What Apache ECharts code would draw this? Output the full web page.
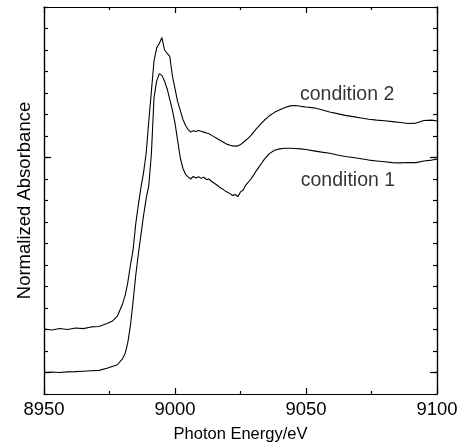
<!DOCTYPE html>
<html>
<head>
<meta charset="utf-8">
<script src="https://cdn.jsdelivr.net/npm/echarts@6/dist/echarts.min.js"></script>
<style>html,body{margin:0;padding:0;background:#fff;}#c{width:470px;height:448px;}</style>
</head>
<body>
<div id="c"></div>
<script>
// Photon energy (eV)
var energy = [8950,8953,8956,8959,8962,8965,8968,8971,8974,8976,8978,8980,8981,8982,8983,8984,8985,8986,8987,8988,8989,8990,8991,8992,8993,8994,8995,8996,8997,8998,8999,9000,9001,9002,9003,9004,9005,9006,9007,9008,9009,9010,9011,9012,9013,9014,9015,9016,9017,9018,9019,9020,9021,9022,9023,9024,9025,9026,9027,9028,9029,9030,9031,9032,9033,9034,9035,9036,9038,9040,9042,9044,9046,9048,9050,9053,9056,9059,9062,9065,9068,9071,9074,9077,9080,9083,9086,9089,9092,9095,9098,9100];
// condition 1 (normalized absorbance)
var condition1 = [0.000,0.002,0.000,0.003,0.004,0.006,0.008,0.010,0.020,0.028,0.036,0.065,0.090,0.140,0.220,0.330,0.450,0.550,0.640,0.730,0.810,0.870,1.020,1.280,1.355,1.390,1.382,1.355,1.320,1.270,1.220,1.160,1.080,1.000,0.950,0.922,0.910,0.900,0.912,0.905,0.911,0.903,0.908,0.897,0.900,0.888,0.880,0.872,0.862,0.855,0.846,0.838,0.832,0.823,0.828,0.818,0.840,0.848,0.872,0.885,0.900,0.918,0.938,0.955,0.972,0.990,1.004,1.018,1.034,1.040,1.043,1.043,1.042,1.040,1.037,1.031,1.025,1.020,1.012,1.005,1.000,0.994,0.988,0.984,0.980,0.976,0.975,0.977,0.976,0.984,0.988,0.992];
// condition 2 (normalized absorbance, offset)
var condition2 = [0.202,0.198,0.205,0.200,0.207,0.204,0.212,0.214,0.228,0.238,0.262,0.320,0.360,0.420,0.500,0.570,0.690,0.780,0.860,0.930,1.020,1.170,1.310,1.450,1.510,1.530,1.558,1.500,1.485,1.470,1.380,1.320,1.260,1.220,1.178,1.150,1.130,1.118,1.124,1.121,1.126,1.122,1.118,1.114,1.110,1.103,1.096,1.088,1.081,1.074,1.067,1.061,1.057,1.054,1.053,1.054,1.060,1.070,1.080,1.090,1.103,1.118,1.133,1.146,1.160,1.172,1.183,1.194,1.210,1.222,1.233,1.240,1.242,1.238,1.235,1.231,1.222,1.212,1.204,1.196,1.190,1.184,1.178,1.174,1.171,1.167,1.163,1.158,1.160,1.172,1.174,1.170];
// annotation labels [energy, value, text]
var annotations = [[9047.7, 1.292, 'condition 2'], [9048, 0.893, 'condition 1']];
// axis settings
var xTicks = [8950, 9000, 9050, 9100];
var yMajorTicks = [0, 1];

var FONT = 'Liberation Sans, Arial, sans-serif';
function pairs(xs, ys){ return xs.map(function(x,i){ return [x, ys[i]]; }); }

var chart = echarts.init(document.getElementById('c'), null, {renderer:'canvas'});
var lineC = {color:'#000', width:1.2};
var yBase = {type:'value', min:-0.1, max:1.7, splitLine:{show:false}, axisLabel:{show:false}, axisLine:{show:true, lineStyle:lineC}};
chart.setOption({
  animation:false,
  backgroundColor:'#fff',
  grid:{left:44, right:33, top:7, bottom:48, containLabel:false},
  xAxis:[
    {type:'value', min:xTicks[0], max:xTicks[xTicks.length-1], interval:50, position:'bottom',
     axisLine:{show:true, onZero:false, lineStyle:lineC},
     axisTick:{show:true, inside:true, length:6, lineStyle:lineC},
     minorTick:{show:true, splitNumber:2, length:3, lineStyle:lineC},
     splitLine:{show:false},
     axisLabel:{show:true, color:'#000', fontSize:18.5, fontFamily:FONT, margin:6,
       formatter:function(v){ return String(v); }},
     name:'Photon Energy/eV', nameLocation:'middle', nameGap:32,
     nameTextStyle:{color:'#000', fontSize:16.5, fontFamily:FONT}},
    {type:'value', min:xTicks[0], max:xTicks[xTicks.length-1], interval:50, position:'top',
     axisLine:{show:true, onZero:false, lineStyle:lineC},
     axisTick:{show:true, inside:true, length:6, lineStyle:lineC},
     minorTick:{show:true, splitNumber:2, length:3, lineStyle:lineC},
     splitLine:{show:false}, axisLabel:{show:false}}
  ],
  yAxis:[
    Object.assign({}, yBase, {position:'left', interval:0.1,
      axisTick:{show:true, inside:true, length:4, lineStyle:lineC},
      name:'Normalized Absorbance', nameLocation:'middle', nameGap:10, nameRotate:90,
      nameTextStyle:{color:'#000', fontSize:18.5, fontFamily:FONT}}),
    Object.assign({}, yBase, {position:'left',
      axisTick:{show:true, inside:true, length:7, customValues:yMajorTicks, lineStyle:lineC}}),
    Object.assign({}, yBase, {position:'right', interval:0.1,
      axisTick:{show:true, inside:true, length:4, lineStyle:lineC}}),
    Object.assign({}, yBase, {position:'right',
      axisTick:{show:true, inside:true, length:7, customValues:yMajorTicks, lineStyle:lineC}})
  ],
  series:[
    {type:'line', name:'condition 1', data:pairs(energy, condition1), showSymbol:false, symbol:'none',
     lineStyle:{color:'#000', width:1.1}, xAxisIndex:0, yAxisIndex:0},
    {type:'line', name:'condition 2', data:pairs(energy, condition2), showSymbol:false, symbol:'none',
     lineStyle:{color:'#000', width:1.1}, xAxisIndex:0, yAxisIndex:0},
    {type:'scatter', data:annotations.map(function(a){ return {value:[a[0], a[1]], name:a[2]}; }),
     symbolSize:0, xAxisIndex:0, yAxisIndex:0, silent:true,
     label:{show:true, position:'right', distance:0, formatter:function(p){ return p.name; },
       color:'#000', fontSize:19.5, fontFamily:FONT, verticalAlign:'middle'}}
  ]
});
</script>
</body>
</html>
